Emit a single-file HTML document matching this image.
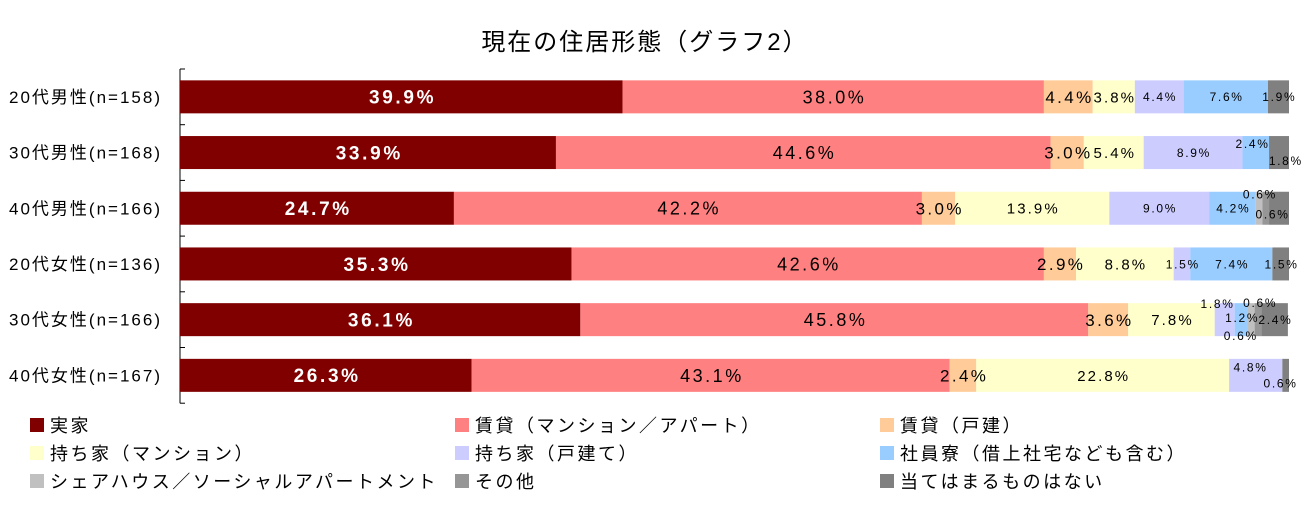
<!DOCTYPE html>
<html><head><meta charset="utf-8"><style>
body{margin:0;background:#fff;width:1306px;height:504px;overflow:hidden}
svg text{font-family:"Liberation Sans","Noto Sans CJK JP",sans-serif}
</style></head><body>
<svg id="c" width="1306" height="504" xmlns="http://www.w3.org/2000/svg">
<text x="645" y="50" font-size="24" letter-spacing="2" text-anchor="middle">現在の住居形態（グラフ2）</text>
</svg>
<script>
const categories=["20代男性(n=158)","30代男性(n=168)","40代男性(n=166)","20代女性(n=136)","30代女性(n=166)","40代女性(n=167)"];
const seriesNames=["実家","賃貸（マンション／アパート）","賃貸（戸建）","持ち家（マンション）","持ち家（戸建て）","社員寮（借上社宅なども含む）","シェアハウス／ソーシャルアパートメント","その他","当てはまるものはない"];
const s0=[39.9,33.9,24.7,35.3,36.1,26.3];
const s1=[38.0,44.6,42.2,42.6,45.8,43.1];
const s2=[4.4,3.0,3.0,2.9,3.6,2.4];
const s3=[3.8,5.4,13.9,8.8,7.8,22.8];
const s4=[4.4,8.9,9.0,1.5,1.8,4.8];
const s5=[7.6,2.4,4.2,7.4,1.2,0];
const s6=[0,0,0.6,0,0.6,0];
const s7=[0,0,0.6,0,0.6,0];
const s8=[1.9,1.8,1.8,1.5,2.4,0.6];
const series=[s0,s1,s2,s3,s4,s5,s6,s7,s8];
const colors=["#800000","#FF8080","#FFCC99","#FFFFCC","#CCCCFF","#99CCFF","#C0C0C0","#969696","#808080"];
const fsz=[19,18,17,15,12,12,12,12,12];
// label layout tweaks: "row,series" -> [dx,dy], or null to hide
const tweak={"1,5":[-4,-9],"1,8":[6,8],"2,6":[0,-14],"2,7":[6,6],"2,8":null,
 "4,4":[-8,-16],"4,5":[0,-2],"4,6":[8,-17],"4,7":[-18,16],"4,8":[0,0],"5,4":[-6,-8],"5,8":[-6,8]};
const svg=document.getElementById('c');
const NS="http://www.w3.org/2000/svg";
const X0=180,W=1109,top0=69,rowH=55.7,barH=33;
const xs=v=>X0+v/100*W;
const yRow=i=>top0+i*rowH+(rowH-barH)/2;
function mk(t,a){const e=document.createElementNS(NS,t);for(const k in a)e.setAttribute(k,a[k]);svg.appendChild(e);return e;}
let ax=mk('line',{x1:X0,y1:top0,x2:X0,y2:top0+rowH*6,stroke:'#000','stroke-width':1});


for(let i=0;i<=6;i++){
 let t=mk('line',{x1:X0,x2:X0+5,y1:top0+i*rowH,y2:top0+i*rowH,stroke:'#000'});
 
 
}
categories.forEach((c,i)=>{
 let t=mk('text',{x:162,y:yRow(i)+barH/2+6,'font-size':17,'letter-spacing':2,'text-anchor':'end'});
 t.textContent=c;
 
 
 let cum=0;
 const labels=[];
 series.forEach((s,j)=>{
  const v=s[i];
  if(v<=0){return;}
  let r=mk('rect',{x:xs(cum),y:yRow(i),width:xs(cum+v)-xs(cum),height:barH,fill:colors[j]});
  
  
  labels.push([j,v,(xs(cum)+xs(cum+v))/2]);
  cum+=v;
 });
 labels.forEach(([j,v,cx])=>{
  const k=i+","+j;
  let d=[0,0];
  if(k in tweak){if(tweak[k]===null)return;d=tweak[k];}
  const f=fsz[j];
  let lab=mk('text',{x:cx+d[0]+f*0.07,y:yRow(i)+barH/2+f*0.36+d[1],'font-size':f,'letter-spacing':f*0.14,'text-anchor':'middle',fill:j===0?'#fff':'#000','font-weight':j===0?'bold':'normal'});
  lab.textContent=v.toFixed(1)+'%';
  
  
 });
});
seriesNames.forEach((n,j)=>{
 const lx=30+(j%3)*425,ly=425+Math.floor(j/3)*28;
 let r=mk('rect',{x:lx,y:ly-7,width:14,height:14,fill:colors[j]});
 
 
 let t=mk('text',{x:lx+20,y:ly+7,'font-size':18,'letter-spacing':2.5});
 t.textContent=n;
 
 
});
</script>
</body></html>
